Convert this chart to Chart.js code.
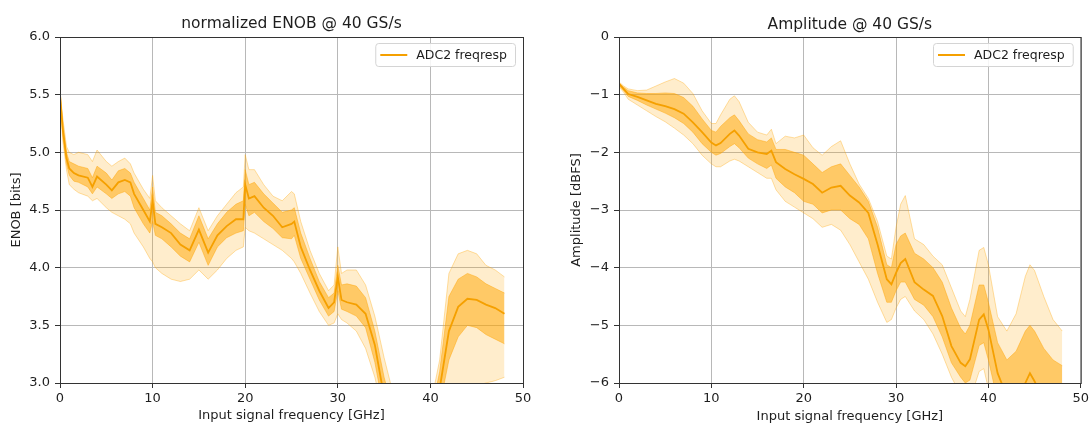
<!DOCTYPE html>
<html>
<head>
<meta charset="utf-8">
<script src="https://cdn.jsdelivr.net/npm/chart.js@4/dist/chart.umd.min.js"></script>
<style>
  body { margin: 0; background: #fff; }
  .panel { position: absolute; top: 0; height: 424px; }
</style>
</head>
<body>
<div class="panel" style="left:0; width:546px;"><canvas id="enobChart"></canvas></div>
<div class="panel" style="left:546px; width:546px;"><canvas id="ampChart"></canvas></div>
<script>
// --- ENOB panel (left) ---
const enobFreq = [0, 0.3, 0.7, 1, 1.5, 2, 3, 3.5, 4, 5,
    5.6, 6.3, 7, 7.6, 8, 9, 9.7, 10, 10.3, 11,
    12, 13, 14, 15, 16, 17, 18, 19, 19.8, 20,
    20.4, 21, 22, 23, 24, 25, 25.3, 26, 27, 28,
    29, 29.6, 30, 30.4, 31, 32, 33, 34, 35, 36,
    37, 38, 39, 40, 41, 42, 43, 44, 45, 46,
    47, 48];
const enobMean = [5.50, 5.20, 4.95, 4.86, 4.82, 4.80, 4.78, 4.70, 4.79, 4.72,
    4.67, 4.74, 4.76, 4.74, 4.64, 4.50, 4.40, 4.58, 4.38, 4.35,
    4.30, 4.20, 4.15, 4.33, 4.13, 4.28, 4.36, 4.42, 4.42, 4.72,
    4.60, 4.62, 4.52, 4.45, 4.35, 4.38, 4.40, 4.18, 3.98, 3.80,
    3.65, 3.70, 3.92, 3.72, 3.70, 3.68, 3.60, 3.33, 2.88, 2.50,
    2.20, 2.00, 2.10, 2.40, 2.95, 3.45, 3.66, 3.73, 3.72, 3.68,
    3.65, 3.60];
// spread of the individual runs: outer / inner envelopes
const enobOuterHi = [5.52, 5.30, 5.05, 5.00, 4.98, 5.00, 4.98, 4.92, 5.02, 4.92,
    4.88, 4.92, 4.95, 4.90, 4.82, 4.68, 4.60, 4.80, 4.58, 4.52,
    4.45, 4.38, 4.32, 4.52, 4.32, 4.45, 4.55, 4.65, 4.70, 4.98,
    4.85, 4.85, 4.72, 4.62, 4.58, 4.66, 4.64, 4.40, 4.15, 3.95,
    3.80, 3.85, 4.18, 3.95, 3.98, 3.98, 3.85, 3.58, 3.22, 2.90,
    2.60, 2.30, 2.40, 2.80, 3.20, 3.95, 4.12, 4.15, 4.12, 4.02,
    3.98, 3.92];
const enobInnerHi = [5.51, 5.25, 5.00, 4.92, 4.90, 4.88, 4.86, 4.78, 4.88, 4.82,
    4.76, 4.84, 4.86, 4.82, 4.74, 4.60, 4.50, 4.70, 4.48, 4.45,
    4.38, 4.30, 4.25, 4.45, 4.25, 4.38, 4.48, 4.55, 4.58, 4.85,
    4.72, 4.74, 4.64, 4.56, 4.48, 4.50, 4.52, 4.30, 4.08, 3.88,
    3.74, 3.78, 4.02, 3.85, 3.86, 3.84, 3.74, 3.45, 3.05, 2.75,
    2.50, 2.20, 2.30, 2.70, 3.10, 3.75, 3.90, 3.95, 3.92, 3.86,
    3.82, 3.78];
const enobInnerLo = [5.48, 5.15, 4.90, 4.80, 4.75, 4.74, 4.70, 4.64, 4.70, 4.64,
    4.60, 4.64, 4.66, 4.62, 4.52, 4.38, 4.30, 4.40, 4.28, 4.25,
    4.18, 4.10, 4.05, 4.22, 4.02, 4.18, 4.26, 4.30, 4.32, 4.55,
    4.45, 4.48, 4.40, 4.34, 4.26, 4.25, 4.28, 4.08, 3.90, 3.72,
    3.58, 3.62, 3.80, 3.64, 3.62, 3.58, 3.48, 3.18, 2.75, 2.40,
    2.10, 1.90, 2.00, 2.30, 2.80, 3.20, 3.40, 3.50, 3.48, 3.42,
    3.38, 3.34];
const enobOuterLo = [5.45, 5.10, 4.85, 4.72, 4.68, 4.65, 4.62, 4.58, 4.60, 4.52,
    4.48, 4.45, 4.42, 4.38, 4.30, 4.18, 4.08, 4.05, 4.00, 3.95,
    3.90, 3.88, 3.90, 3.98, 3.90, 3.98, 4.08, 4.15, 4.18, 4.35,
    4.32, 4.30, 4.25, 4.20, 4.15, 4.08, 4.05, 3.95, 3.78, 3.62,
    3.50, 3.52, 3.60, 3.55, 3.52, 3.45, 3.30, 3.05, 2.70, 2.35,
    2.00, 1.80, 1.90, 2.20, 2.70, 2.85, 2.90, 2.95, 2.98, 3.00,
    3.02, 3.05];

// --- Amplitude panel (right) ---
const ampFreq = [0, 0.5, 1, 2, 3, 4, 5, 6, 7, 8,
    9, 10, 10.5, 11, 12, 12.5, 13, 14, 15, 16,
    16.5, 17, 18, 19, 20, 21, 22, 23, 24, 25,
    26, 27, 28, 29, 29.5, 30, 30.5, 31, 32, 33,
    34, 35, 36, 37, 37.5, 38, 39, 39.5, 40, 41,
    42, 43, 44, 44.5, 45, 46, 47, 48];
const ampMean = [-0.81, -0.90, -0.99, -1.04, -1.10, -1.16, -1.20, -1.25, -1.33, -1.48,
    -1.65, -1.83, -1.88, -1.84, -1.68, -1.62, -1.71, -1.94, -2.00, -2.03,
    -1.97, -2.17, -2.29, -2.38, -2.46, -2.55, -2.70, -2.61, -2.58, -2.75,
    -2.87, -3.05, -3.60, -4.20, -4.29, -4.09, -3.92, -3.85, -4.25, -4.38,
    -4.49, -4.84, -5.36, -5.65, -5.71, -5.59, -4.90, -4.81, -5.07, -5.83,
    -6.23, -6.40, -6.00, -5.83, -5.97, -6.30, -6.50, -6.60];
const ampOuterHi = [-0.78, -0.85, -0.90, -0.93, -0.92, -0.85, -0.78, -0.72, -0.80, -0.98,
    -1.28, -1.50, -1.50, -1.35, -1.08, -1.02, -1.12, -1.48, -1.65, -1.70,
    -1.60, -1.85, -1.72, -1.75, -1.70, -1.92, -2.05, -1.90, -1.80, -2.20,
    -2.55, -2.80, -3.20, -3.80, -3.85, -3.30, -2.90, -2.75, -3.50, -3.60,
    -3.80, -3.95, -4.35, -4.75, -4.85, -4.55, -3.70, -3.65, -3.95, -4.85,
    -5.10, -4.80, -4.15, -3.95, -4.05, -4.50, -4.90, -5.10];
const ampInnerHi = [-0.80, -0.87, -0.93, -0.97, -0.98, -0.98, -0.97, -0.98, -1.05, -1.20,
    -1.42, -1.62, -1.65, -1.55, -1.40, -1.35, -1.45, -1.68, -1.78, -1.82,
    -1.75, -1.95, -1.95, -2.00, -2.05, -2.20, -2.35, -2.25, -2.20, -2.40,
    -2.60, -2.85, -3.30, -3.95, -4.00, -3.60, -3.45, -3.40, -3.75, -3.85,
    -4.00, -4.25, -4.70, -5.05, -5.15, -5.00, -4.30, -4.30, -4.60, -5.30,
    -5.60, -5.45, -5.10, -5.00, -5.10, -5.40, -5.60, -5.70];
const ampInnerLo = [-0.84, -0.93, -1.03, -1.10, -1.18, -1.25, -1.32, -1.40, -1.50, -1.65,
    -1.85, -2.00, -2.05, -2.02, -1.90, -1.85, -1.92, -2.10, -2.20, -2.28,
    -2.22, -2.45, -2.60, -2.70, -2.85, -2.90, -3.05, -3.00, -3.00, -3.15,
    -3.25, -3.50, -4.10, -4.60, -4.60, -4.40, -4.25, -4.25, -4.55, -4.65,
    -4.85, -5.20, -5.65, -5.90, -6.00, -5.95, -5.35, -5.30, -5.60, -6.30,
    -6.60, -6.60, -6.40, -6.25, -6.30, -6.60, -6.80, -6.90];
const ampOuterLo = [-0.86, -0.96, -1.08, -1.18, -1.28, -1.38, -1.47, -1.58, -1.70, -1.85,
    -2.05, -2.20, -2.25, -2.25, -2.15, -2.12, -2.15, -2.25, -2.35, -2.45,
    -2.45, -2.65, -2.85, -2.95, -3.05, -3.15, -3.30, -3.25, -3.35, -3.60,
    -3.90, -4.20, -4.60, -4.95, -4.90, -4.70, -4.55, -4.50, -4.75, -4.90,
    -5.15, -5.50, -5.90, -6.20, -6.30, -6.30, -5.80, -5.75, -6.10, -6.70,
    -7.00, -7.00, -6.90, -6.80, -6.80, -7.00, -7.10, -7.20];

const seriesLabel = 'ADC2 freqresp';

Chart.defaults.font.family = "'DejaVu Sans', sans-serif";
Chart.defaults.font.size = 13;
Chart.defaults.color = '#1e1e1e';

const ORANGE = '#f5a000';

const toPts = (xs, ys) => xs.map((x, i) => ({ x: x, y: ys[i] }));

// box around the axes, the title and the legend (drawn like matplotlib)
const framePlugin = {
    id: 'frame',
    afterDraw(chart, args, opts) {
        const { ctx, chartArea: a } = chart;
        ctx.save();
        ctx.strokeStyle = '#333';
        ctx.lineWidth = 1;
        ctx.strokeRect(a.left + 0.5, a.top + 0.5, a.right - a.left, a.bottom - a.top);

        // title
        ctx.fillStyle = '#1e1e1e';
        ctx.font = "15.5px 'DejaVu Sans'";
        ctx.textAlign = 'center';
        ctx.textBaseline = 'middle';
        ctx.fillText(opts.title, (a.left + a.right) / 2, opts.titleY);

        // legend
        ctx.font = "12.5px 'DejaVu Sans'";
        const label = chart.data.datasets[0].label;
        const tw = ctx.measureText(label).width;
        const w = tw + 49, h = 23;
        const x0 = a.right - 8 - w, y0 = a.top + 6;
        ctx.fillStyle = 'rgba(255,255,255,0.85)';
        ctx.strokeStyle = '#d4d4d4';
        ctx.beginPath();
        ctx.roundRect(x0 + 0.5, y0 + 0.5, w, h, 3);
        ctx.fill();
        ctx.stroke();
        ctx.strokeStyle = ORANGE;
        ctx.lineWidth = 2;
        ctx.beginPath();
        ctx.moveTo(x0 + 5, y0 + h / 2 + 0.5);
        ctx.lineTo(x0 + 32, y0 + h / 2 + 0.5);
        ctx.stroke();
        ctx.fillStyle = '#1e1e1e';
        ctx.textAlign = 'left';
        ctx.fillText(label, x0 + 41, y0 + h / 2 + 1);
        ctx.restore();
    }
};

function makeDatasets(freq, mean, oHi, iHi, iLo, oLo) {
    return [
        { label: seriesLabel, data: toPts(freq, mean), borderColor: ORANGE, borderWidth: 1.8, fill: false },
        { label: 'outer hi', data: toPts(freq, oHi), borderColor: 'rgba(255,165,0,0.35)', borderWidth: 1,
          fill: { target: 4 }, backgroundColor: 'rgba(255,165,0,0.2)' },
        { label: 'inner hi', data: toPts(freq, iHi), borderColor: 'rgba(255,165,0,0.45)', borderWidth: 1,
          fill: { target: 3 }, backgroundColor: 'rgba(255,165,0,0.5)' },
        { label: 'inner lo', data: toPts(freq, iLo), borderColor: 'rgba(255,165,0,0.45)', borderWidth: 1, fill: false },
        { label: 'outer lo', data: toPts(freq, oLo), borderColor: 'rgba(255,165,0,0.35)', borderWidth: 1, fill: false }
    ];
}

function makeOptions(o) {
    return {
        responsive: true,
        maintainAspectRatio: false,
        animation: false,
        devicePixelRatio: 1,
        layout: { padding: { top: 37, right: o.padRight, left: 0, bottom: 0 } },
        elements: { point: { radius: 0 }, line: { tension: 0 } },
        plugins: {
            legend: { display: false },
            tooltip: { enabled: false },
            frame: { title: o.title, titleY: o.titleY }
        },
        scales: {
            x: {
                type: 'linear', min: 0, max: 50,
                ticks: { stepSize: 10, padding: 3 },
                grid: { color: '#b8b8b8', tickColor: '#333', tickLength: 5 },
                border: { color: '#333' },
                title: { display: true, text: 'Input signal frequency [GHz]', padding: { top: 0, bottom: o.xTitlePad } },
                afterFit(scale) { scale.height = 41; }
            },
            y: {
                min: o.yMin, max: o.yMax,
                ticks: { stepSize: o.yStep, padding: 5, callback: o.yFmt },
                grid: { color: '#b8b8b8', tickColor: '#333', tickLength: 5 },
                border: { color: '#333' },
                title: { display: true, text: o.yTitle, padding: { top: o.yTitlePad, bottom: 0 } },
                afterFit(scale) { scale.width = o.yWidth; }
            }
        }
    };
}

const charts = {};

charts.enob = new Chart(document.getElementById('enobChart'), {
    type: 'line',
    data: { datasets: makeDatasets(enobFreq, enobMean, enobOuterHi, enobInnerHi, enobInnerLo, enobOuterLo) },
    options: makeOptions({
        title: 'normalized ENOB @ 40 GS/s', titleY: 24,
        padRight: 23, yWidth: 60, yTitlePad: 9, xTitlePad: 1,
        yMin: 3, yMax: 6, yStep: 0.5, yTitle: 'ENOB [bits]',
        yFmt: v => v.toFixed(1)
    }),
    plugins: [framePlugin]
});

charts.amp = new Chart(document.getElementById('ampChart'), {
    type: 'line',
    data: { datasets: makeDatasets(ampFreq, ampMean, ampOuterHi, ampInnerHi, ampInnerLo, ampOuterLo) },
    options: makeOptions({
        title: 'Amplitude @ 40 GS/s', titleY: 25,
        padRight: 11, yWidth: 73, yTitlePad: 23, xTitlePad: 0,
        yMin: -6, yMax: 0, yStep: 1, yTitle: 'Amplitude [dBFS]',
        yFmt: v => v < 0 ? '\u2212' + Math.abs(v) : String(v)
    }),
    plugins: [framePlugin]
});
</script>
</body>
</html>
